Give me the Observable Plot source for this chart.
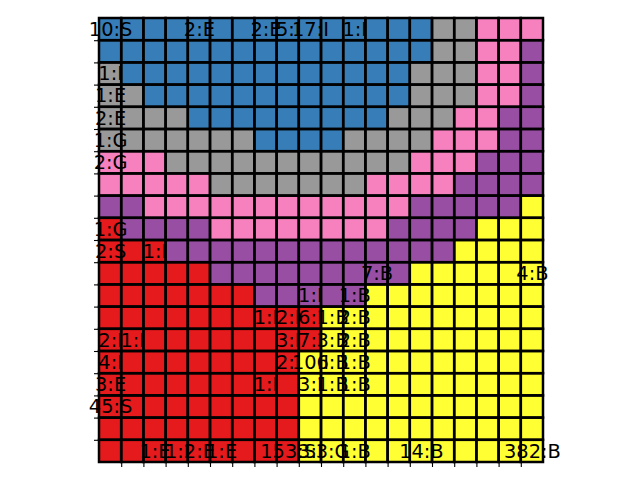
<!DOCTYPE html>
<html>
<head>
<meta charset="utf-8">
<script src="https://cdn.jsdelivr.net/npm/d3@7"></script>
<script src="https://cdn.jsdelivr.net/npm/@observablehq/plot@0.6"></script>
<style>
  html, body { margin: 0; padding: 0; background: white; }
  #chart { width: 640px; height: 480px; }
</style>
</head>
<body>
<div id="chart"></div>
<script>
// One string per grid row (top to bottom), one letter per cell (left to right)
const cellRows = [
  "BBBBBBBBBBBBBBBGGPPP",
  "BBBBBBBBBBBBBBBGGPPU",
  "GBBBBBBBBBBBBBGGGPPU",
  "GGBBBBBBBBBBBBGGGPPU",
  "GGGGBBBBBBBBBGGGPPUU",
  "GGGGGGGBBBBGGGGPPPUU",
  "PPPGGGGGGGGGGGPPPUUU",
  "PPPPPGGGGGGGPPPPUUUU",
  "UUPPPPPPPPPPPPUUUUUY",
  "RUUUUPPPPPPPPUUUUYYY",
  "RRRUUUUUUUUUUUUUYYYY",
  "RRRRRUUUUUUUUUYYYYYY",
  "RRRRRRRUUUUUYYYYYYYY",
  "RRRRRRRRRRYYYYYYYYYY",
  "RRRRRRRRRRYYYYYYYYYY",
  "RRRRRRRRRYYYYYYYYYYY",
  "RRRRRRRRRYYYYYYYYYYY",
  "RRRRRRRRRYYYYYYYYYYY",
  "RRRRRRRRRYYYYYYYYYYY",
  "RRRRRRRRRYYYYYYYYYYY"
];
const colorCodes = ["B", "G", "P", "U", "R", "Y"];
const colorHex = ["#377eb8", "#999999", "#f781bf", "#984ea3", "#e41a1c", "#ffff33"];

// Cell labels
const labelTexts = [
  "10:S", "2:E", "2:E", "5:I", "17:I", "1:I",
  "1:I", "1:E", "2:E", "1:G", "2:G",
  "1:G", "2:S", "1:I",
  "7:B", "4:B",
  "1:I", "1:B",
  "1:I", "2:I", "6:I", "1:B", "2:B",
  "2:I", "1:I", "3:I", "7:I", "3:B", "2:B",
  "4:I", "2:I", "10:I", "6:B", "1:B",
  "3:E", "1:I", "3:I", "1:B", "1:B",
  "45:S",
  "1:E", "1:I", "2:E", "1:E", "153:S", "3:I", "3:G", "1:B", "14:B", "382:B"
];
const labelRows = [
  0, 0, 0, 0, 0, 0,
  2, 3, 4, 5, 6,
  9, 10, 10,
  11, 11,
  12, 12,
  13, 13, 13, 13, 13,
  14, 14, 14, 14, 14, 14,
  15, 15, 15, 15, 15,
  16, 16, 16, 16, 16,
  17,
  19, 19, 19, 19, 19, 19, 19, 19, 19, 19
];
const labelCols = [
  0, 4, 7, 8, 9, 11,
  0, 0, 0, 0, 0,
  0, 0, 2,
  12, 19,
  9, 11,
  7, 8, 9, 10, 11,
  0, 1, 8, 9, 10, 11,
  0, 8, 9, 10, 11,
  0, 7, 9, 10, 11,
  0,
  2, 3, 4, 5, 8, 9, 10, 11, 14, 19
];
const tickPositions = [1, 2, 3, 4, 5, 6, 7, 8, 9, 10, 11, 12, 13, 14, 15, 16, 17, 18, 19];

const cells = cellRows.flatMap((s, r) => [...s].map((code, c) => ({row: r, col: c, code})));
const labels = labelTexts.map((text, i) => ({text, row: labelRows[i], col: labelCols[i]}));

const chart = Plot.plot({
  width: 640,
  height: 480,
  marginLeft: 99,
  marginRight: 97,
  marginTop: 18,
  marginBottom: 18,
  style: {fontFamily: "'DejaVu Sans', sans-serif", background: "white", color: "black"},
  x: {domain: [0, 20], axis: null},
  y: {domain: [0, 20], reverse: true, axis: null},
  color: {domain: colorCodes, range: colorHex},
  marks: [
    Plot.rect(cells, {x1: "col", x2: d => d.col + 1, y1: "row", y2: d => d.row + 1, fill: "code"}),
    Plot.text(labels, {x: d => d.col + 0.5, y: d => d.row + 0.5, text: "text", fontSize: 19.4, fill: "black"}),
    Plot.rect(cells, {x1: "col", x2: d => d.col + 1, y1: "row", y2: d => d.row + 1, fill: "none", stroke: "black", strokeWidth: 2.5}),
    Plot.axisX({ticks: tickPositions, anchor: "bottom", tickSize: 5, tickFormat: () => "", label: null, strokeWidth: 1.1}),
    Plot.axisY({ticks: tickPositions, anchor: "left", tickSize: 5, tickFormat: () => "", label: null, strokeWidth: 1.1})
  ]
});
document.getElementById("chart").appendChild(chart);
</script>
</body>
</html>
